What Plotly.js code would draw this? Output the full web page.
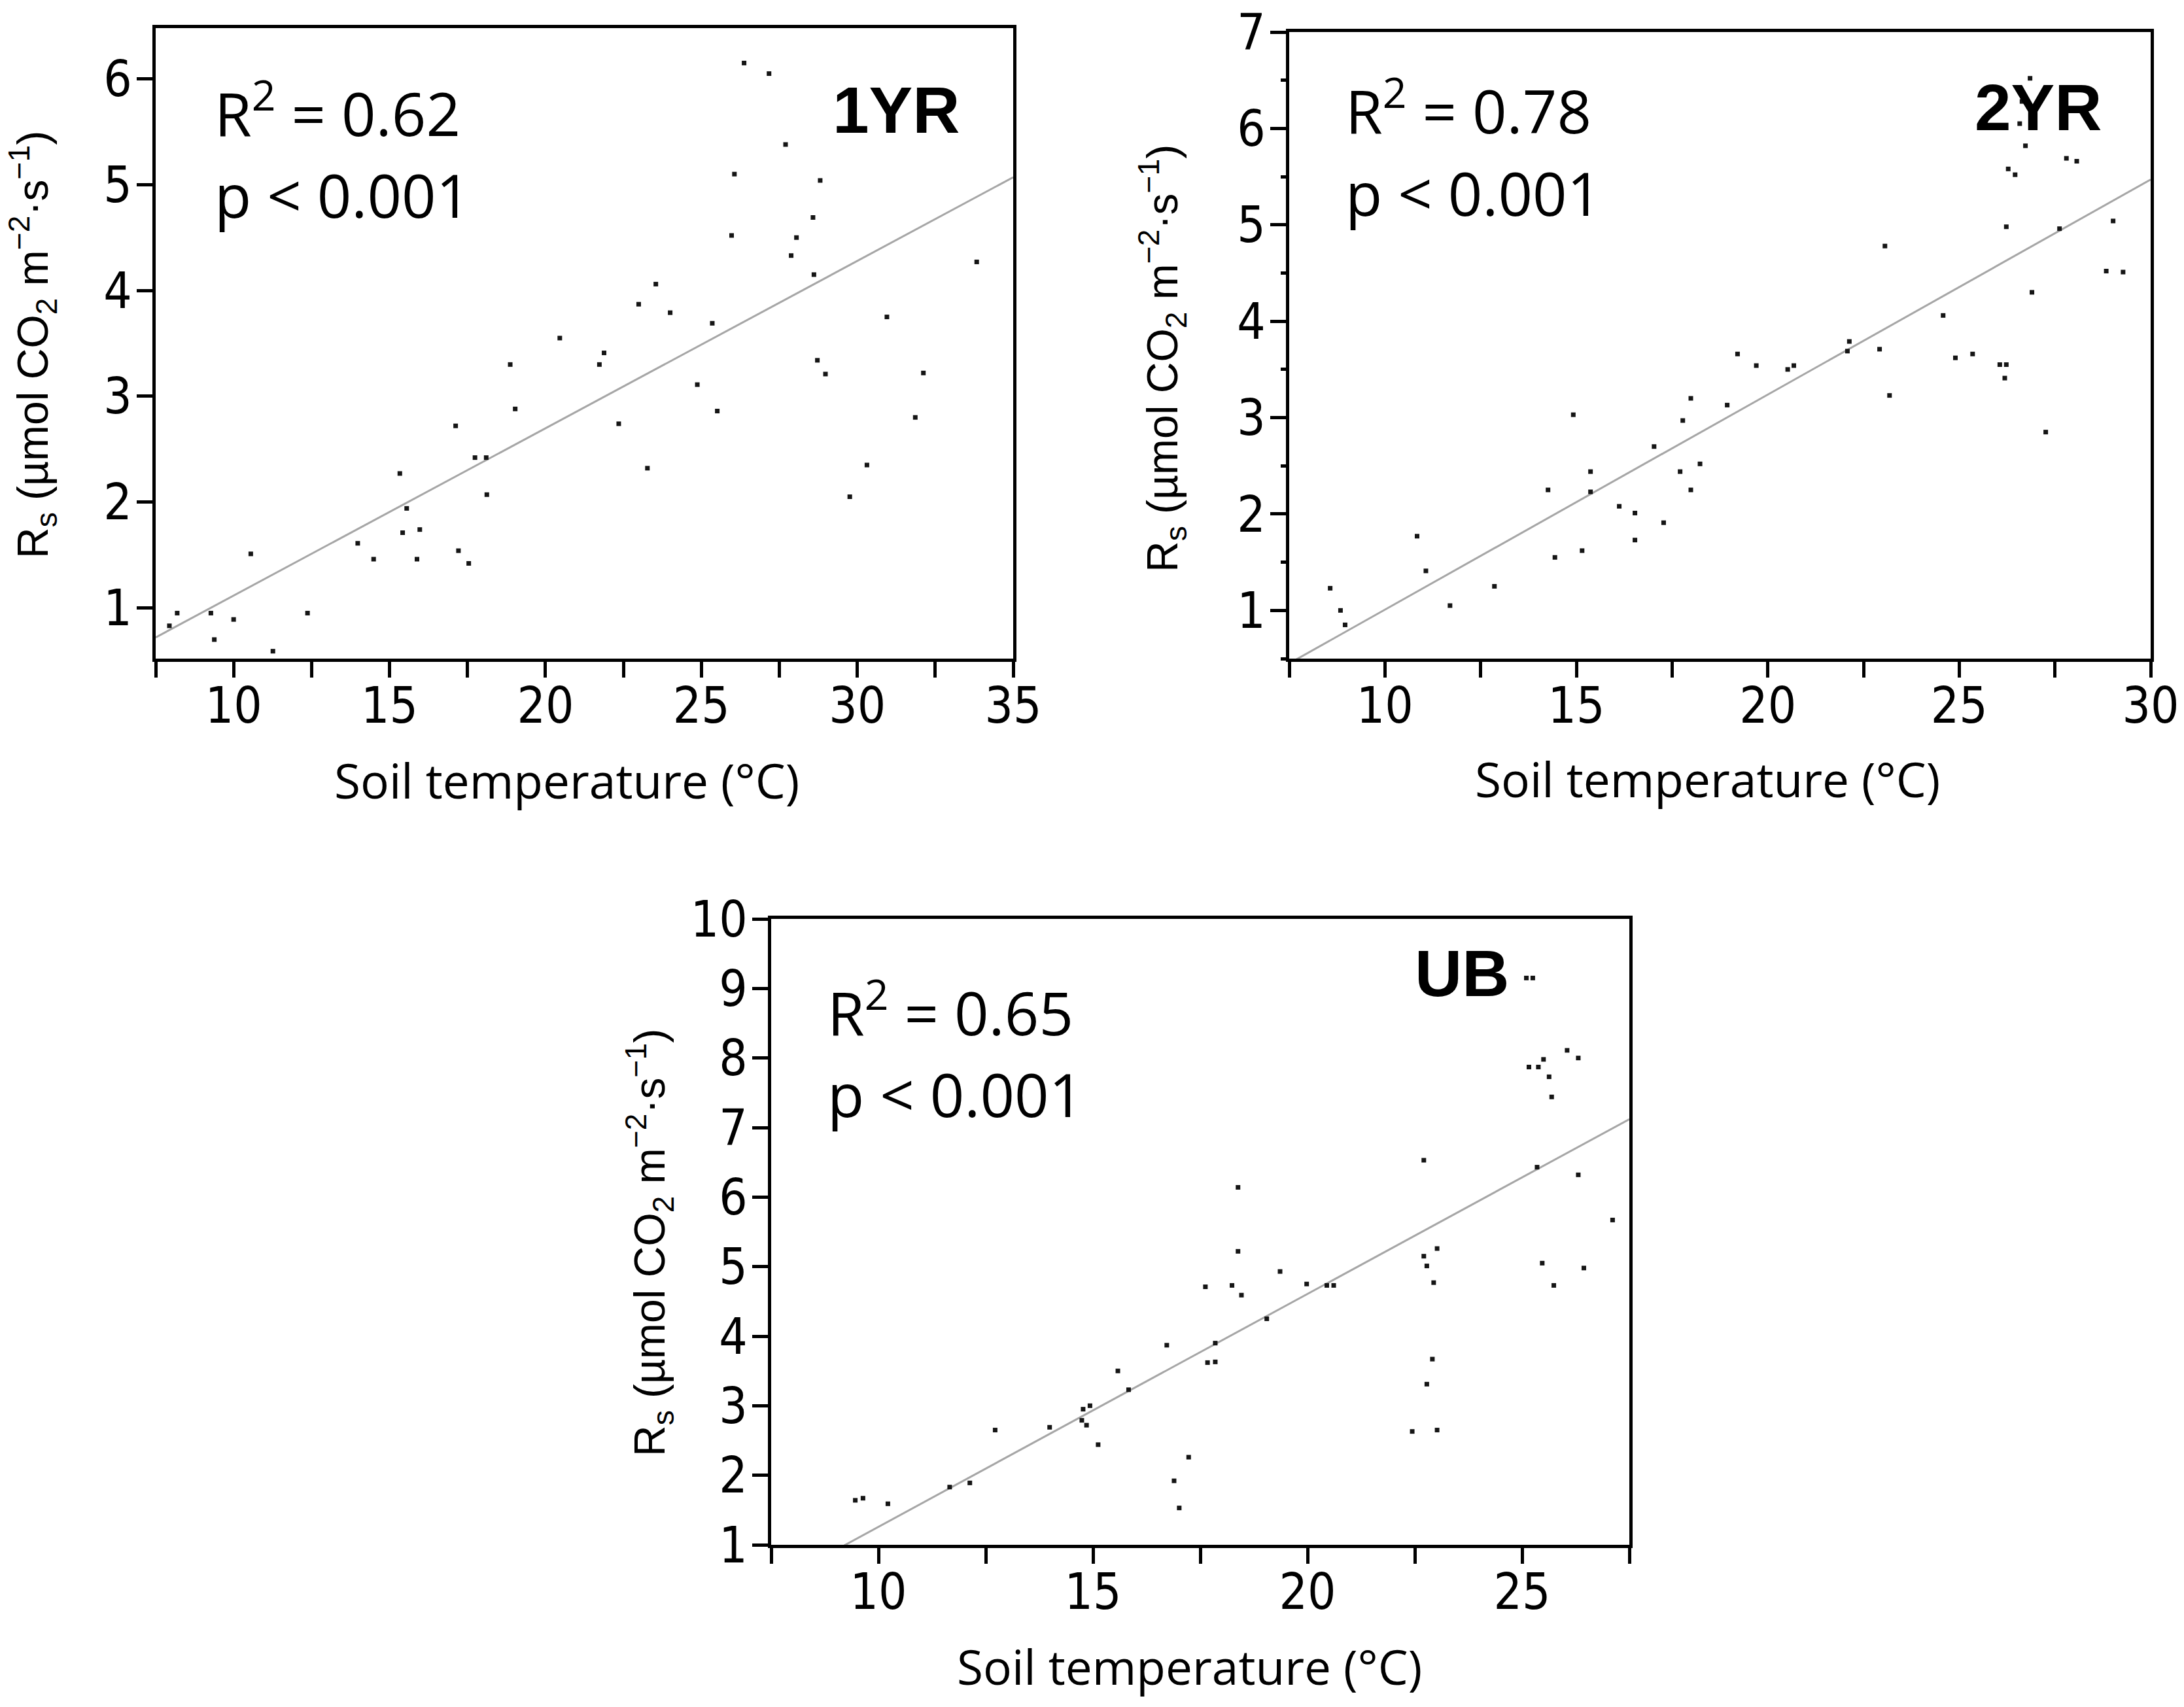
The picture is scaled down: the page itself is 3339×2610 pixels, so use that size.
<!DOCTYPE html>
<html>
<head>
<meta charset="utf-8">
<script src="https://cdn.plot.ly/plotly-3.0.1.min.js"></script>
<style>
  html, body { margin: 0; padding: 0; background: #fff; }
  #chart { width: 3339px; height: 2610px; }
</style>
</head>
<body>
<div id="chart"></div>
<script>
// 1YR plot: soil temperature vs soil respiration
const temp1YR = [7.94, 8.19, 9.27, 9.38, 10.0, 10.55, 11.26, 12.37, 13.98, 14.49, 15.33, 15.42, 15.55, 15.88, 15.97,
  17.12, 17.21, 17.54, 17.74, 18.10, 18.12, 18.87, 19.03, 20.46, 21.73, 21.88, 22.35, 22.99, 23.27, 23.54, 24.0,
  24.87, 25.35, 25.51, 25.97, 26.06, 26.37, 27.17, 27.70, 27.88, 28.05, 28.58, 28.61, 28.81, 28.72, 28.98, 29.76,
  30.31, 30.95, 31.86, 32.12, 33.83];
const rs1YR = [0.83, 0.95, 0.95, 0.70, 0.89, 1.51, 0.59, 0.95, 1.61, 1.46, 2.27, 1.71, 1.94, 1.46, 1.74,
  2.72, 1.54, 1.42, 2.42, 2.42, 2.07, 3.30, 2.88, 3.55, 3.30, 3.41, 2.74, 3.87, 2.32, 4.06, 3.79,
  3.11, 3.69, 2.86, 4.52, 5.10, 6.15, 6.05, 5.38, 4.33, 4.50, 4.69, 4.15, 5.04, 3.34, 3.21, 2.05,
  2.35, 3.75, 2.80, 3.22, 4.27];

// 2YR plot
const temp2YR = [8.57, 8.84, 8.96, 10.84, 11.07, 11.70, 12.86, 14.26, 14.44, 14.92, 15.15, 15.37, 15.37, 16.12,
  16.53, 16.53, 17.03, 17.28, 17.71, 17.78, 17.99, 17.99, 18.23, 18.94, 19.21, 19.70, 20.52, 20.68, 22.08, 22.13,
  22.92, 23.06, 23.18, 24.58, 24.90, 25.35, 26.06, 26.23, 26.19, 26.23, 26.28, 26.46, 26.58, 26.64, 26.73, 26.85,
  26.90, 27.26, 27.62, 27.80, 28.07, 28.84, 29.02, 29.28];
const rs2YR = [1.23, 1.0, 0.85, 1.77, 1.41, 1.05, 1.25, 2.25, 1.55, 3.03, 1.62, 2.44, 2.23, 2.08,
  2.01, 1.73, 2.70, 1.91, 2.44, 2.97, 2.25, 3.20, 2.52, 3.13, 3.66, 3.54, 3.50, 3.54, 3.69, 3.79,
  3.71, 4.78, 3.23, 4.06, 3.62, 3.66, 3.55, 3.55, 3.41, 4.98, 5.58, 5.52, 6.05, 6.28, 5.82, 6.52,
  4.30, 2.85, 4.96, 5.69, 5.66, 4.52, 5.04, 4.51];

// UB plot
const tempUB = [9.46, 9.64, 10.22, 11.66, 12.13, 12.72, 13.99, 14.74, 14.77, 14.93, 14.85, 15.12, 15.58, 15.83,
  16.72, 16.89, 17.01, 17.23, 17.62, 17.67, 17.85, 17.85, 18.24, 18.38, 18.38, 18.46, 19.05, 19.36, 19.98, 20.45,
  20.61, 22.44, 22.71, 22.71, 22.78, 22.78, 22.94, 22.91, 23.02, 23.02, 25.10, 25.25, 25.16, 25.38, 25.35, 25.50,
  25.47, 25.63, 25.69, 25.74, 26.05, 26.31, 26.31, 26.44, 27.11];
const rsUB = [1.64, 1.67, 1.59, 1.83, 1.89, 2.65, 2.69, 2.79, 2.95, 3.00, 2.72, 2.44, 3.50, 3.23,
  3.87, 1.92, 1.53, 2.26, 4.71, 3.62, 3.63, 3.90, 4.73, 6.14, 5.22, 4.59, 4.25, 4.93, 4.75, 4.73,
  4.73, 2.63, 6.53, 5.15, 5.01, 3.31, 4.77, 3.67, 5.26, 2.65, 9.15, 9.15, 7.87, 7.87, 6.43, 7.98,
  5.05, 7.73, 7.44, 4.73, 8.11, 8.00, 6.32, 4.98, 5.67];

// fitted lines, end points
const fit1YRx = [7.5, 35];
const fit1YRy = [0.72, 5.07];
const fit2YRx = [7.5, 30];
const fit2YRy = [0.45, 5.47];
const fitUBx = [9.2, 27.5];
const fitUBy = [0.99, 7.12];

const panelNames = ['1YR', '2YR', 'UB'];
const r2Labels = ['0.62', '0.78', '0.65'];
const pLabel = 'p < 0.001';
const xTitle = 'Soil temperature (°C)';
const yTitle = 'R<sub>s</sub> (µmol CO<sub>2</sub> m<sup>−2</sup>·s<sup>−1</sup>)';

const W = 3339, H = 2610;
const px = v => v / W;
const py = v => 1 - v / H;

const tickFont = { family: '"Liberation Sans Narrow", "DejaVu Sans Condensed", "Arial Narrow", sans-serif', size: 76, color: '#000' };

function dots(x, y, xa, ya) {
  return {
    x: x, y: y, xaxis: xa, yaxis: ya, type: 'scatter', mode: 'markers',
    marker: { symbol: 'square', size: 7, color: '#151515' },
    cliponaxis: false, showlegend: false, hoverinfo: 'x+y'
  };
}
function fit(x, y, xa, ya) {
  return {
    x: x, y: y, xaxis: xa, yaxis: ya, type: 'scatter', mode: 'lines',
    line: { color: '#a6a6a6', width: 3 }, showlegend: false, hoverinfo: 'skip'
  };
}

const data = [
  fit(fit1YRx, fit1YRy, 'x', 'y'),
  dots(temp1YR, rs1YR, 'x', 'y'),
  fit(fit2YRx, fit2YRy, 'x2', 'y2'),
  dots(temp2YR, rs2YR, 'x2', 'y2'),
  fit(fitUBx, fitUBy, 'x3', 'y3'),
  dots(tempUB, rsUB, 'x3', 'y3')
];

function axis(domain, range, anchor, dtick, minor, standoff) {
  const a = {
    domain: domain, range: range, anchor: anchor,
    showline: true, linewidth: 5, linecolor: '#000', mirror: true,
    showgrid: false, zeroline: false,
    ticks: 'outside', ticklen: 24, tickwidth: 5, tickcolor: '#000',
    tick0: 0, dtick: dtick, tickfont: tickFont, fixedrange: true,
    ticklabelstandoff: standoff
  };
  if (minor) a.minor = minor;
  return a;
}
const xMinor = { tick0: 0, dtick: 2.5, ticks: 'outside', ticklen: 24, tickwidth: 5, tickcolor: '#000', showgrid: false };

const layout = {
  width: W, height: H,
  margin: { l: 0, r: 0, t: 0, b: 0 },
  paper_bgcolor: '#fff', plot_bgcolor: '#fff',
  showlegend: false,
  xaxis: axis([px(238), px(1549)], [7.5, 35], 'y', 5, xMinor, -22),
  yaxis: axis([py(1007), py(43)], [0.52, 6.48], 'x', 1, null, -8),
  xaxis2: axis([px(1971), px(3288)], [7.5, 30], 'y2', 5, xMinor, -22),
  yaxis2: axis([py(1007), py(49)], [0.5, 7], 'x2', 1,
    { tick0: 0, dtick: 0.5, ticks: 'outside', ticklen: 8, tickwidth: 5, tickcolor: '#000', showgrid: false }, -8),
  xaxis3: axis([px(1179), px(2491)], [7.5, 27.5], 'y3', 5, xMinor, -22),
  yaxis3: axis([py(2362), py(1405)], [1, 10], 'x3', 1, null, -8),
  annotations: []
};

const statFont = { family: '"Open Sans", "Liberation Sans", sans-serif', size: 92, color: '#000' };
const nameFont = { family: '"Liberation Sans", Arial, sans-serif', size: 100, color: '#000', weight: 'bold' };
const xTitleFont = { family: '"Open Sans", "Liberation Sans", sans-serif', size: 73, color: '#000' };
const yTitleFont = { family: '"Liberation Sans", Arial, sans-serif', size: 66, color: '#000' };

// pixel anchors for each panel's texts
const statPos = [[326, 167, 297], [2055, 164, 295], [1263, 1543, 1672]];
const namePos = [[1470, 168], [3216, 164], [2309, 1488]];
const xTitlePos = [[866, 1192], [2610, 1190], [1818, 2547]];
const yTitlePos = [[50, 527], [1777, 548], [993, 1900]];

for (let i = 0; i < 3; i++) {
  const s = statPos[i];
  layout.annotations.push({
    xref: 'paper', yref: 'paper', x: px(s[0]), y: py(s[1]), xanchor: 'left', yanchor: 'middle',
    text: 'R<sup>2</sup> = ' + r2Labels[i], showarrow: false, font: statFont
  });
  layout.annotations.push({
    xref: 'paper', yref: 'paper', x: px(s[0]), y: py(s[2]), xanchor: 'left', yanchor: 'middle',
    text: pLabel, showarrow: false, font: statFont
  });
  layout.annotations.push({
    xref: 'paper', yref: 'paper', x: px(namePos[i][0]), y: py(namePos[i][1]), xanchor: 'right', yanchor: 'middle',
    text: '<b>' + panelNames[i] + '</b>', showarrow: false, font: nameFont
  });
  layout.annotations.push({
    xref: 'paper', yref: 'paper', x: px(xTitlePos[i][0]), y: py(xTitlePos[i][1]), xanchor: 'center', yanchor: 'middle',
    text: xTitle, showarrow: false, font: xTitleFont
  });
  layout.annotations.push({
    xref: 'paper', yref: 'paper', x: px(yTitlePos[i][0]), y: py(yTitlePos[i][1]), xanchor: 'center', yanchor: 'middle',
    text: yTitle, textangle: -90, showarrow: false, font: yTitleFont
  });
}

Plotly.newPlot('chart', data, layout, { displayModeBar: false });
</script>
</body>
</html>
